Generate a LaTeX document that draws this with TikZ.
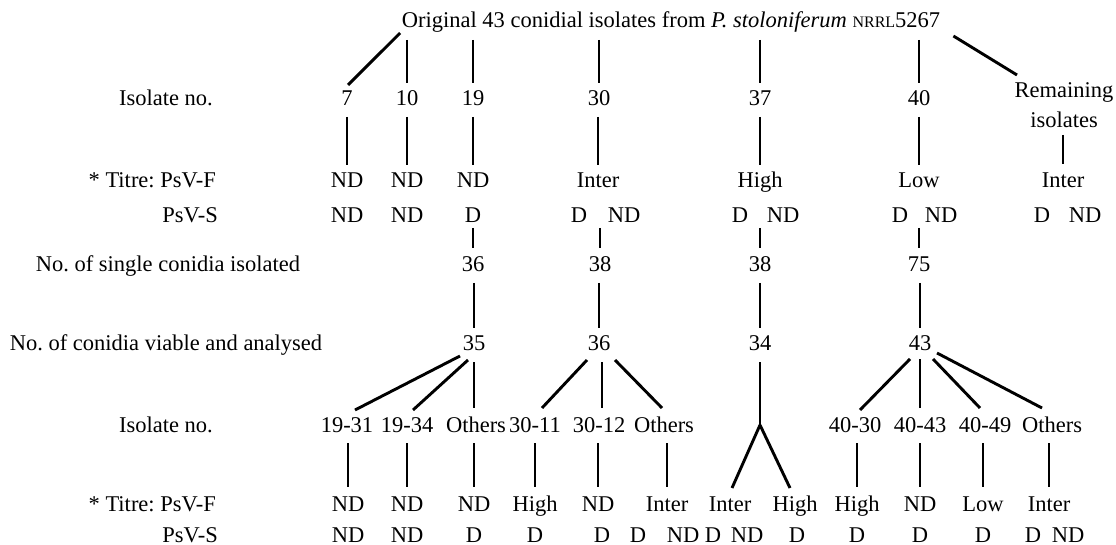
\documentclass[tikz,border=0pt]{standalone}
\usepackage{fontspec}
\setmainfont{Liberation Serif}
\usetikzlibrary{calc}
\begin{document}
\frenchspacing
\begin{tikzpicture}[x=1pt,y=-1pt,
  t/.style={inner sep=0pt, text height=14.5pt, text depth=0pt, font=\fontsize{22.5}{26}\selectfont},
  lab/.style={t, anchor=east},
  conn/.style={line width=2.9pt}]
\useasboundingbox (0,0) rectangle (1116,545);
% left labels
\node[t] (lIsoA) at (166,98) {Isolate no.};
\node[lab] (lTFA) at (216,180) {* Titre: PsV-F};
\node[lab] (lTSA) at (218,215) {PsV-S};
\node[t] (lSingle) at (168,264) {No. of single conidia isolated};
\node[t] (lViable) at (166,343) {No. of conidia viable and analysed};
\node[t] (lIsoB) at (166,425) {Isolate no.};
\node[lab] (lTFB) at (216,504) {* Titre: PsV-F};
\node[lab] (lTSB) at (218,535) {PsV-S};
% top
\node[t] (orig) at (671,20) {Original 43 conidial isolates from \textit{P. stoloniferum} {\fontsize{16}{18}\selectfont NRRL}5267};
% row 1
\node[t] (c7) at (347,98) {7};
\node[t] (c10) at (407,98) {10};
\node[t] (c19) at (473,98) {19};
\node[t] (c30) at (599,98) {30};
\node[t] (c37) at (760,98) {37};
\node[t] (c40) at (919,98) {40};
\node[t] (remA) at (1064,90) {Remaining};
\node[t] (remB) at (1064,120) {isolates};
% row 2
\node[t] (f7) at (347,180) {ND};
\node[t] (f10) at (407,180) {ND};
\node[t] (f19) at (473,180) {ND};
\node[t] (f30) at (598,180) {Inter};
\node[t] (f37) at (760,180) {High};
\node[t] (f40) at (919,180) {Low};
\node[t] (fR) at (1063,180) {Inter};
% row 3
\node[t] (s7) at (347,215) {ND};
\node[t] (s10) at (407,215) {ND};
\node[t] (s19) at (473,215) {D};
\node[t] (s30a) at (579,215) {D};
\node[t] (s30b) at (624,215) {ND};
\node[t] (s37a) at (740,215) {D};
\node[t] (s37b) at (783,215) {ND};
\node[t] (s40a) at (900,215) {D};
\node[t] (s40b) at (941,215) {ND};
\node[t] (sRa) at (1042,215) {D};
\node[t] (sRb) at (1085,215) {ND};
% row 4
\node[t] (g19) at (473,264) {36};
\node[t] (g30) at (600,264) {38};
\node[t] (g37) at (760,264) {38};
\node[t] (g40) at (919,264) {75};
% row 5
\node[t] (v19) at (474,343) {35};
\node[t] (v30) at (599,343) {36};
\node[t] (v37) at (760,343) {34};
\node[t] (v40) at (920,343) {43};
% row 6
\node[t] (i1) at (347,425) {19-31};
\node[t] (i2) at (407,425) {19-34};
\node[t] (i3) at (476,425) {Others};
\node[t] (i4) at (535,425) {30-11};
\node[t] (i5) at (599,425) {30-12};
\node[t] (i6) at (664,425) {Others};
\coordinate (j34) at (760,425);
\node[t] (i8) at (855,425) {40-30};
\node[t] (i9) at (920,425) {40-43};
\node[t] (i10) at (985,425) {40-49};
\node[t] (i11) at (1052,425) {Others};
% row 7
\node[t] (p1) at (348,504) {ND};
\node[t] (p2) at (407,504) {ND};
\node[t] (p3) at (474,504) {ND};
\node[t] (p4) at (535,504) {High};
\node[t] (p5) at (598,504) {ND};
\node[t] (p6) at (667,504) {Inter};
\node[t] (p7a) at (730,504) {Inter};
\node[t] (p7b) at (795,504) {High};
\node[t] (p8) at (857,504) {High};
\node[t] (p9) at (920,504) {ND};
\node[t] (p10) at (983,504) {Low};
\node[t] (p11) at (1049,504) {Inter};
% row 8
\node[t] (q1) at (348,535) {ND};
\node[t] (q2) at (407,535) {ND};
\node[t] (q3) at (474,535) {D};
\node[t] (q4) at (535,535) {D};
\node[t] (q5) at (602,535) {D};
\node[t] (q6a) at (638,535) {D};
\node[t] (q6b) at (683,535) {ND};
\node[t] (q7a) at (713,535) {D};
\node[t] (q7b) at (747,535) {ND};
\node[t] (q7c) at (797,535) {D};
\node[t] (q8) at (857,535) {D};
\node[t] (q9) at (920,535) {D};
\node[t] (q10) at (983,535) {D};
\node[t] (q11a) at (1033,535) {D};
\node[t] (q11b) at (1068,535) {ND};
% connectors: top
\draw[conn] ($(orig.west)+(-1.5,13)$) -- ($(c7)+(1,-13)$);
\foreach \n in {c10,c19,c30,c37,c40}
  \draw[conn] ($(orig -| \n)+(0,20)$) -- ($(\n)+(0,-15)$);
\draw[conn] ($(orig.east)+(13,16)$) -- ($(remA)+(-47,-15)$);
% row1 -> row2
\foreach \a/\b in {c7/f7,c10/f10,c19/f19,c30/f30,c37/f37,c40/f40}
  \draw[conn] ($(\a -| \b)+(0,19)$) -- ($(\b)+(0,-15)$);
\draw[conn] ($(remB -| fR)+(0,15)$) -- ($(fR)+(0,-16)$);
% row3 -> row4
\foreach \a/\b in {s19/g19,s30a/g30,s37a/g37,s40a/g40}
  \draw[conn] ($(\a -| \b)+(0,13)$) -- ($(\b)+(0,-16)$);
% row4 -> row5
\foreach \a/\b in {g19/v19,g30/v30,g37/v37,g40/v40}
  \draw[conn] ($(\a -| \b)+(0,19)$) -- ($(\b)+(0,-15)$);
% row5 -> row6
\draw[conn] ($(v19)+(-14,13)$) -- ($(i1)+(8,-15)$);
\draw[conn] ($(v19)+(-6,17)$) -- ($(i2)+(6,-15)$);
\draw[conn] ($(v19)+(0,19)$) -- ($(i3 -| v19)+(0,-17)$);
\draw[conn] ($(v30)+(-12,17)$) -- ($(i4)+(7,-17)$);
\draw[conn] ($(v30)+(3,19)$) -- ($(i5)+(3,-17)$);
\draw[conn] ($(v30)+(16,17)$) -- ($(i6)+(-2,-17)$);
\draw[conn] ($(v37)+(0,19)$) -- (j34);
\draw[conn] (j34) -- ($(p7a)+(2,-16)$);
\draw[conn] (j34) -- ($(p7b)+(-5,-16)$);
\draw[conn] ($(v40)+(-10,16)$) -- ($(i8)+(5,-15)$);
\draw[conn] ($(v40)+(0,16)$) -- ($(i9)+(0,-17)$);
\draw[conn] ($(v40)+(13,16)$) -- ($(i10)+(-5,-17)$);
\draw[conn] ($(v40)+(17,10)$) -- ($(i11)+(-10,-17)$);
% row6 -> row7
\foreach \a/\b in {i1/p1,i2/p2,i3/p3,i4/p4,i5/p5,i6/p6,i8/p8,i9/p9,i10/p10,i11/p11}
  \draw[conn] ($(\a -| \b)+(0,18)$) -- ($(\b)+(0,-17)$);
\end{tikzpicture}
\end{document}
